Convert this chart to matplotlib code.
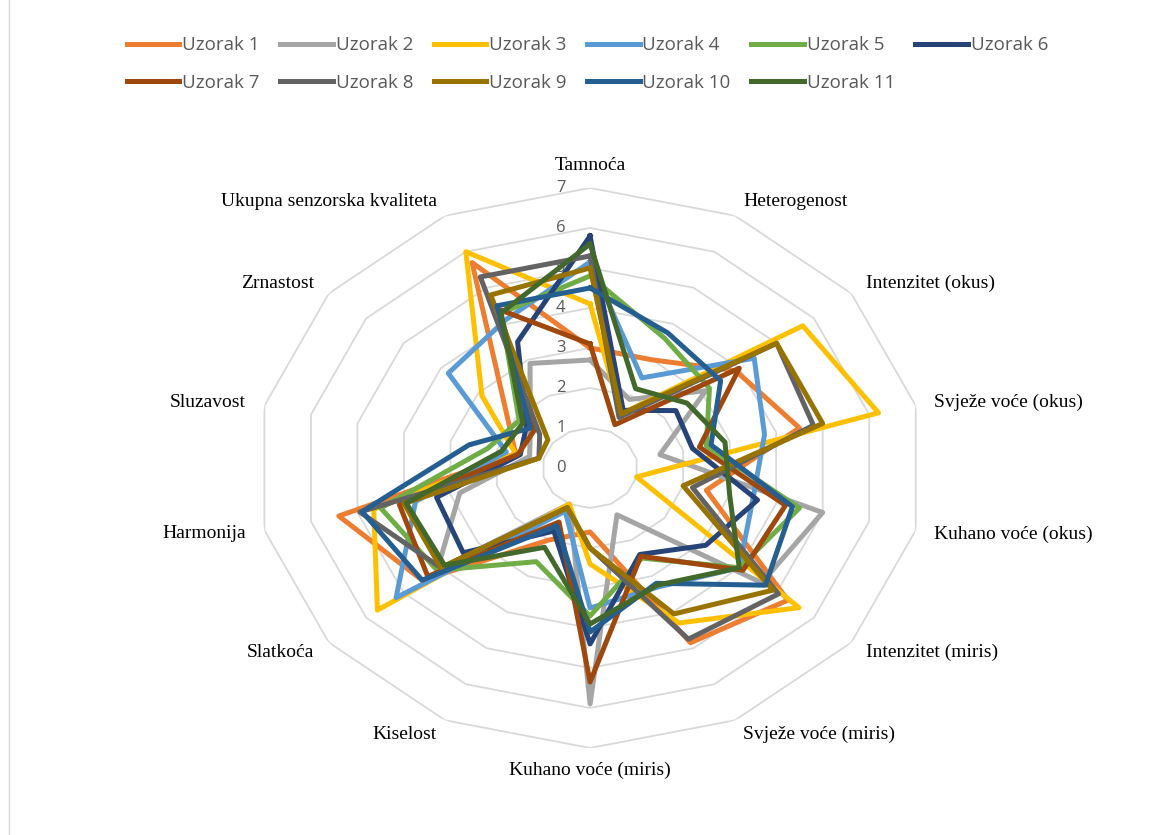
import numpy as np
import matplotlib.pyplot as plt
from matplotlib.lines import Line2D

# Radar chart of sensory scores, 11 samples on 14 attributes (Excel-style polygon grid)

categories = ['Tamnoća', 'Heterogenost', 'Intenzitet (okus)', 'Svježe voće (okus)',
              'Kuhano voće (okus)', 'Intenzitet (miris)', 'Svježe voće (miris)',
              'Kuhano voće (miris)', 'Kiselost', 'Slatkoća', 'Harmonija',
              'Sluzavost', 'Zrnastost', 'Ukupna senzorska kvaliteta']

uzorak_1 = [3.0, 3.0, 3.9, 4.5, 2.5, 5.3, 4.85, 1.6, 2.0, 4.5, 5.4, 1.6, 2.25, 5.7]
uzorak_2 = [2.7, 1.9, 3.1, 1.5, 5.0, 4.6, 1.3, 5.9, 1.0, 4.1, 2.8, 1.3, 1.6, 2.9]
uzorak_3 = [4.1, 1.5, 5.7, 6.2, 1.0, 5.6, 4.3, 2.4, 1.0, 5.7, 4.65, 1.6, 2.9, 6.0]
uzorak_4 = [5.15, 2.5, 4.4, 3.75, 3.5, 4.0, 3.3, 3.5, 1.2, 5.2, 3.75, 1.8, 3.8, 4.1]
uzorak_5 = [4.8, 3.6, 3.2, 2.5, 4.5, 4.0, 2.5, 3.7, 2.6, 4.1, 4.5, 2.2, 1.9, 4.3]
uzorak_6 = [5.8, 1.6, 2.3, 2.2, 3.6, 3.1, 2.4, 4.4, 1.75, 3.4, 3.3, 1.5, 1.7, 3.5]
uzorak_7 = [3.1, 1.2, 4.0, 2.35, 4.2, 4.1, 2.45, 5.35, 1.5, 4.35, 4.1, 1.55, 1.5, 4.4]
uzorak_8 = [5.3, 1.4, 5.0, 4.8, 2.2, 5.05, 4.75, 2.0, 1.1, 4.0, 4.95, 1.1, 1.35, 5.3]
uzorak_9 = [5.0, 1.5, 5.0, 5.0, 2.0, 4.9, 4.05, 2.0, 1.1, 4.0, 4.0, 1.1, 1.13, 4.8]
uzorak_10 = [4.5, 3.75, 3.5, 2.6, 4.35, 4.7, 3.2, 4.1, 1.6, 4.5, 4.9, 2.6, 1.6, 4.5]
uzorak_11 = [5.6, 2.2, 2.6, 2.9, 3.0, 4.0, 3.25, 3.9, 2.2, 3.9, 3.95, 1.9, 1.8, 4.3]

series = [uzorak_1, uzorak_2, uzorak_3, uzorak_4, uzorak_5, uzorak_6,
          uzorak_7, uzorak_8, uzorak_9, uzorak_10, uzorak_11]
names = ['Uzorak %d' % i for i in range(1, 12)]
colors = ['#ED7D31', '#A5A5A5', '#FFC000', '#5B9BD5', '#70AD47', '#264478',
          '#9E480E', '#636363', '#997300', '#255E91', '#43682B']
r_ticks = [0, 1, 2, 3, 4, 5, 6, 7]

fig = plt.figure(figsize=(11.57, 8.35), dpi=100)
ax = fig.add_axes([0.2213, 0.1042, 0.5774, 0.6707], projection='polar')
ax.set_aspect('auto')  # the original is stretched sideways
ax.set_theta_zero_location('N')
ax.set_theta_direction(-1)
ax.set_ylim(0, 7)
ax.grid(False)
ax.spines['polar'].set_visible(False)
ax.set_xticks([])
ax.set_yticks([])

n = len(categories)
angles = np.linspace(0, 2 * np.pi, n, endpoint=False)
closed = np.append(angles, angles[0])

# polygon grid rings
for r in r_ticks[1:]:
    ax.plot(closed, [r] * (n + 1), color='#D9D9D9', lw=1.3, zorder=1)

lines = []
for vals, name, c in zip(series, names, colors):
    ln, = ax.plot(closed, vals + vals[:1], color=c, lw=3.6, label=name, zorder=3)
    lines.append(ln)

for r in r_ticks:
    ax.annotate(str(r), xy=(0, r), xytext=(-21, 0), textcoords='offset points',
                ha='center', va='center', color='#595959', fontsize=12,
                family='Open Sans', zorder=2)

for ang, lab in zip(angles, categories):
    s = np.sin(ang)
    if abs(s) < 1e-6:
        ax.text(ang, 7.55, lab, ha='center', va='center', fontsize=14,
                family='Liberation Serif')
    else:
        ax.text(ang, 7.4, lab, ha='left' if s > 0 else 'right', va='center',
                fontsize=14, family='Liberation Serif')

# Excel fills the legend row by row, matplotlib column by column
order = [0, 6, 1, 7, 2, 8, 3, 9, 4, 10, 5]
fig.legend([lines[i] for i in order], [names[i] for i in order], ncol=6,
           loc='upper left', bbox_to_anchor=(0.095, 0.977), frameon=False,
           handlelength=2.8, handletextpad=0.15, columnspacing=1.1,
           labelspacing=1.05, prop={'family': 'Open Sans', 'size': 13.5},
           labelcolor='#595959')

fig.add_artist(Line2D([0.008, 0.008], [0, 1], transform=fig.transFigure,
                      color='#D9D9D9', lw=1))

fig.savefig('out.png', dpi=100, facecolor='white')
